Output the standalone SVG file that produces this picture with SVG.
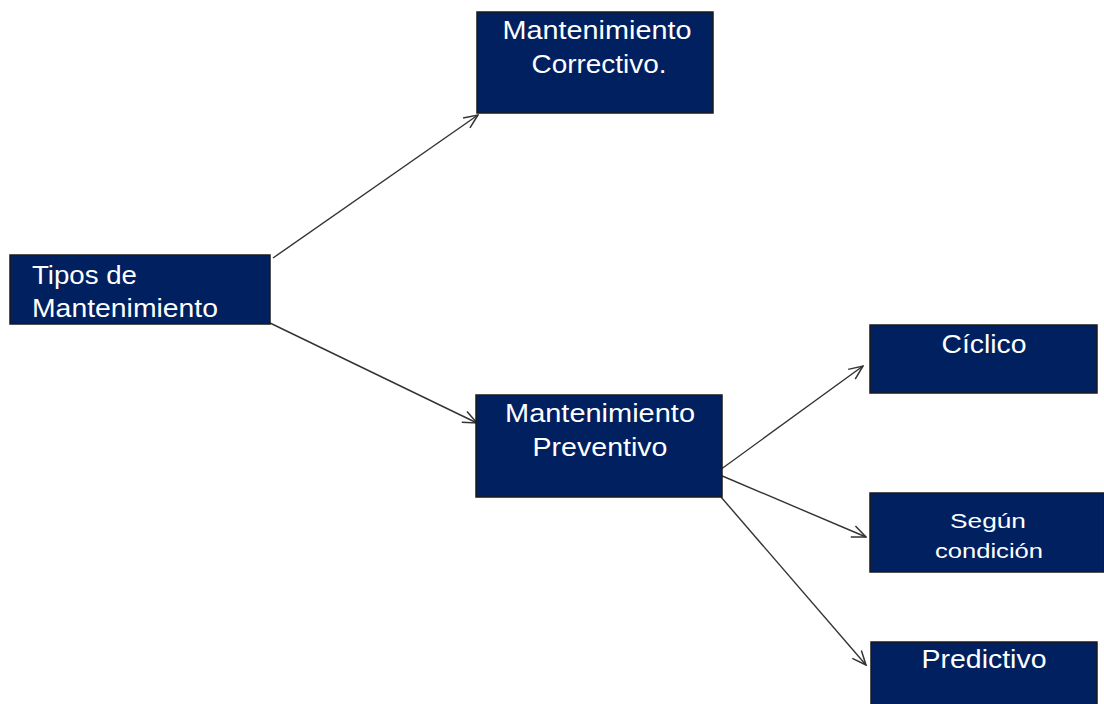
<svg xmlns="http://www.w3.org/2000/svg" width="1104" height="704" viewBox="0 0 1104 704">
  <style>
    .box { fill: #002060; stroke: #1a1a1a; stroke-width: 1.5; }
    .lbl { fill: #ffffff; font-family: "Liberation Sans", Arial, sans-serif; font-size: 25px; }
    .sm { font-size: 21px; }
    .mid { text-anchor: middle; }
    .edge { stroke: #333333; stroke-width: 1.4; fill: none; marker-end: url(#open); }
  </style>
  <defs>
    <marker id="open" viewBox="0 0 16 14" refX="15" refY="7" markerWidth="16" markerHeight="14" markerUnits="userSpaceOnUse" orient="auto">
      <path d="M1,1 L15,7 L1,13" fill="none" stroke="#333333" stroke-width="1.5"/>
    </marker>
  </defs>
  <rect width="1104" height="704" fill="#ffffff"/>

  <g id="connectors">
    <line class="edge" x1="273" y1="258" x2="478" y2="115"/>
    <line class="edge" x1="270" y1="323" x2="477" y2="423"/>
    <line class="edge" x1="720" y1="470" x2="863" y2="366"/>
    <line class="edge" x1="720" y1="475" x2="866" y2="537"/>
    <line class="edge" x1="721" y1="497" x2="866" y2="665"/>
  </g>

  <g id="tipos">
    <rect class="box" x="10" y="255" width="260" height="69"/>
    <text class="lbl" x="32" y="284" textLength="105" lengthAdjust="spacingAndGlyphs">Tipos de</text>
    <text class="lbl" x="32" y="317" textLength="186" lengthAdjust="spacingAndGlyphs">Mantenimiento</text>
  </g>

  <g id="correctivo">
    <rect class="box" x="477" y="12" width="236" height="101"/>
    <text class="lbl mid" x="597" y="39" textLength="189" lengthAdjust="spacingAndGlyphs">Mantenimiento</text>
    <text class="lbl mid" x="599" y="73" textLength="135" lengthAdjust="spacingAndGlyphs">Correctivo.</text>
  </g>

  <g id="preventivo">
    <rect class="box" x="476" y="395" width="246" height="102"/>
    <text class="lbl mid" x="600" y="422" textLength="190" lengthAdjust="spacingAndGlyphs">Mantenimiento</text>
    <text class="lbl mid" x="600" y="456" textLength="135" lengthAdjust="spacingAndGlyphs">Preventivo</text>
  </g>

  <g id="ciclico">
    <rect class="box" x="870" y="325" width="227" height="68"/>
    <text class="lbl mid" x="984" y="353" textLength="85" lengthAdjust="spacingAndGlyphs">Cíclico</text>
  </g>

  <g id="segun-condicion">
    <rect class="box" x="870" y="493" width="234" height="79"/>
    <text class="lbl sm mid" x="988" y="528" textLength="76" lengthAdjust="spacingAndGlyphs">Según</text>
    <text class="lbl sm mid" x="989" y="558" textLength="108" lengthAdjust="spacingAndGlyphs">condición</text>
  </g>

  <g id="predictivo">
    <rect class="box" x="871" y="642" width="226" height="70"/>
    <text class="lbl mid" x="984" y="668" textLength="125" lengthAdjust="spacingAndGlyphs">Predictivo</text>
  </g>
</svg>
